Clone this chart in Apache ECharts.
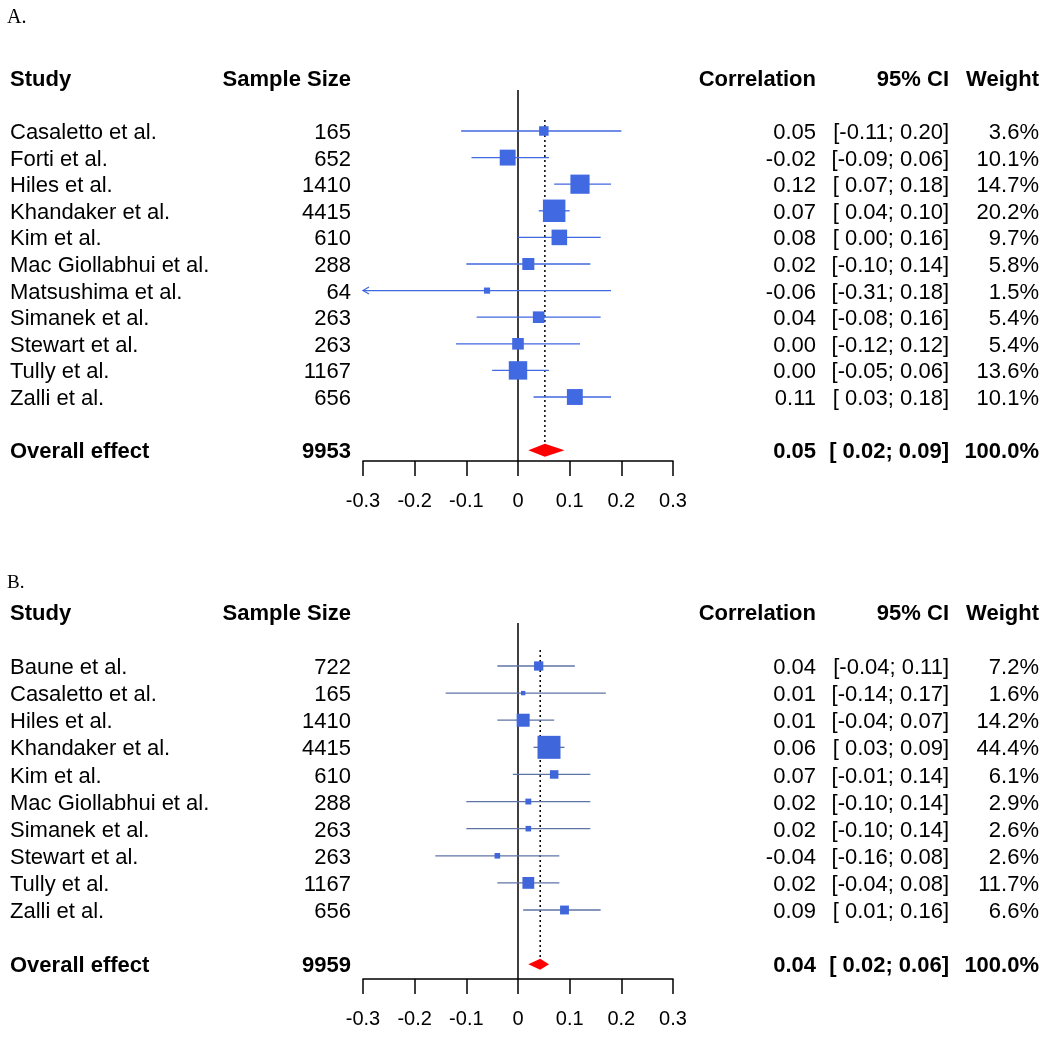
<!DOCTYPE html>
<html><head><meta charset="utf-8">
<script src="https://cdn.jsdelivr.net/npm/echarts@6/dist/echarts.min.js"></script>
<style>html,body{margin:0;padding:0;background:#fff}#c{width:1050px;height:1037px}</style>
</head><body><div id="c"></div>
<script>
// ---------- Panel A data ----------
const studiesA = ['Casaletto et al.','Forti et al.','Hiles et al.','Khandaker et al.','Kim et al.','Mac Giollabhui et al.','Matsushima et al.','Simanek et al.','Stewart et al.','Tully et al.','Zalli et al.'];
const sampleA = [165,652,1410,4415,610,288,64,263,263,1167,656];
const corrA   = [0.05,-0.02,0.12,0.07,0.08,0.02,-0.06,0.04,0.00,0.00,0.11];
const lowerA  = [-0.11,-0.09,0.07,0.04,0.00,-0.10,-0.31,-0.08,-0.12,-0.05,0.03];
const upperA  = [0.20,0.06,0.18,0.10,0.16,0.14,0.18,0.16,0.12,0.06,0.18];
const weightA = [3.6,10.1,14.7,20.2,9.7,5.8,1.5,5.4,5.4,13.6,10.1];
const totalA = 9953;
const pooledEstA = 0.052, pooledLowerA = 0.02, pooledUpperA = 0.09;

// ---------- Panel B data ----------
const studiesB = ['Baune et al.','Casaletto et al.','Hiles et al.','Khandaker et al.','Kim et al.','Mac Giollabhui et al.','Simanek et al.','Stewart et al.','Tully et al.','Zalli et al.'];
const sampleB = [722,165,1410,4415,610,288,263,263,1167,656];
const corrB   = [0.04,0.01,0.01,0.06,0.07,0.02,0.02,-0.04,0.02,0.09];
const lowerB  = [-0.04,-0.14,-0.04,0.03,-0.01,-0.10,-0.10,-0.16,-0.04,0.01];
const upperB  = [0.11,0.17,0.07,0.09,0.14,0.14,0.14,0.08,0.08,0.16];
const weightB = [7.2,1.6,14.2,44.4,6.1,2.9,2.6,2.6,11.7,6.6];
const totalB = 9959;
const pooledEstB = 0.043, pooledLowerB = 0.02, pooledUpperB = 0.06;

// ---------- shared ----------
const headers = ['Study','Sample Size','Correlation','95% CI','Weight'];
const xTicks = [-0.3,-0.2,-0.1,0,0.1,0.2,0.3];
const XMIN = xTicks[0], XMAX = xTicks[xTicks.length-1];

const FONT = '"Liberation Sans", Arial, sans-serif';
const fmt2 = v => (Math.abs(v) < 0.005 ? 0 : v).toFixed(2);
const ciFmt = (lo, hi) => '[' + (lo < 0 ? fmt2(lo) : ' ' + fmt2(lo)) + '; ' + fmt2(hi) + ']';

const panels = [
  {studies: studiesA, n: sampleA, est: corrA, lo: lowerA, hi: upperA, w: weightA, total: totalA,
   pEst: pooledEstA, pLo: pooledLowerA, pHi: pooledUpperA,
   top: 90, bottom: 461, yMin: -1.541, yMax: 12.406, dotTop: -0.41, k: 5.0, diaH: 13,
   lineColor: '#4169E1', sqColor: '#4169E1'},
  {studies: studiesB, n: sampleB, est: corrB, lo: lowerB, hi: upperB, w: weightB, total: totalB,
   pEst: pooledEstB, pLo: pooledLowerB, pHi: pooledUpperB,
   top: 623, bottom: 979, yMin: -1.586, yMax: 11.545, dotTop: -0.59, k: 3.45, diaH: 11,
   lineColor: '#5f73a6', sqColor: '#3f66da'}
];

const COLX = {study: 10, n: 351, corr: 816, ci: 949, w: 1039};
const TEXT_DY = 2;

const grid = [], xAxis = [], yAxis = [], series = [];
panels.forEach((p, gi) => {
  const nStud = p.studies.length;
  const overallRow = nStud + 1;
  grid.push({left: 363, right: 1050 - 673, top: p.top, height: p.bottom - p.top});
  xAxis.push({gridIndex: gi, type: 'value', min: XMIN, max: XMAX, interval: 0.1,
    axisLine: {show: true, onZero: false, lineStyle: {color: '#000', width: 1.5}},
    axisTick: {show: true, length: 15, lineStyle: {color: '#000', width: 1.5}},
    axisLabel: {fontSize: 20, color: '#000', margin: 30, fontFamily: FONT,
      formatter: v => String(Math.round(v * 10) / 10)},
    splitLine: {show: false}});
  yAxis.push({gridIndex: gi, type: 'value', inverse: true, min: p.yMin, max: p.yMax, show: false});

  // reference lines (zero line + dotted pooled line)
  series.push({type: 'custom', xAxisIndex: gi, yAxisIndex: gi, clip: false, silent: true, z: 1,
    data: [[p.pEst, p.dotTop, overallRow]],
    renderItem: (params, api) => {
      const a = api.coord([0, p.yMin]), b = api.coord([0, p.yMax]);
      const c = api.coord([api.value(0), api.value(1)]), d = api.coord([api.value(0), api.value(2)]);
      return {type: 'group', children: [
        {type: 'line', shape: {x1: a[0], y1: a[1], x2: b[0], y2: b[1]}, style: {stroke: '#000', lineWidth: 1.5}},
        {type: 'line', shape: {x1: c[0], y1: c[1], x2: d[0], y2: d[1]}, style: {stroke: '#000', lineWidth: 1.5, lineDash: [2, 3]}}
      ]};
    }});

  // study rows: CI lines + squares
  series.push({type: 'custom', xAxisIndex: gi, yAxisIndex: gi, clip: false, silent: true, z: 2,
    encode: {x: [1, 2, 3], y: 0},
    data: p.studies.map((s, i) => [i, p.est[i], p.lo[i], p.hi[i], p.w[i]]),
    renderItem: (params, api) => {
      const row = api.value(0), est = api.value(1), lo = api.value(2), hi = api.value(3), w = api.value(4);
      const y = api.coord([0, row])[1];
      const xl = api.coord([Math.max(lo, XMIN), row])[0];
      const xh = api.coord([Math.min(hi, XMAX), row])[0];
      const xe = api.coord([est, row])[0];
      const s = p.k * Math.sqrt(w);
      const ch = [{type: 'line', shape: {x1: xl, y1: y, x2: xh, y2: y}, style: {stroke: p.lineColor, lineWidth: 1.3}}];
      if (lo < XMIN) ch.push({type: 'polyline', shape: {points: [[xl + 6, y - 3.5], [xl, y], [xl + 6, y + 3.5]]}, style: {stroke: p.lineColor, fill: null, lineWidth: 1.2}});
      if (hi > XMAX) ch.push({type: 'polyline', shape: {points: [[xh - 6, y - 3.5], [xh, y], [xh - 6, y + 3.5]]}, style: {stroke: p.lineColor, fill: null, lineWidth: 1.2}});
      ch.push({type: 'rect', shape: {x: xe - s / 2, y: y - s / 2, width: s, height: s}, style: {fill: p.sqColor}});
      return {type: 'group', children: ch};
    }});

  // pooled diamond
  series.push({type: 'custom', xAxisIndex: gi, yAxisIndex: gi, clip: false, silent: true, z: 3,
    encode: {x: [1, 2, 3], y: 0},
    data: [[overallRow, p.pEst, p.pLo, p.pHi]],
    renderItem: (params, api) => {
      const row = api.value(0);
      const y = api.coord([0, row])[1];
      const xe = api.coord([api.value(1), row])[0], xl = api.coord([api.value(2), row])[0], xh = api.coord([api.value(3), row])[0];
      const h = p.diaH / 2;
      return {type: 'polygon', shape: {points: [[xl, y], [xe, y - h], [xh, y], [xe, y + h]]}, style: {fill: '#FF0000'}};
    }});

  // text table
  const rows = [-2].concat(p.studies.map((s, i) => i)).concat([overallRow]);
  series.push({type: 'custom', xAxisIndex: gi, yAxisIndex: gi, clip: false, silent: true, z: 4,
    encode: {x: 0, y: 1},
    data: rows.map(r => [0, r]),
    renderItem: (params, api) => {
      const idx = params.dataIndex;
      const y = api.coord([0, api.value(1)])[1] + TEXT_DY;
      let cells, bold;
      if (idx === 0) {
        cells = headers; bold = true;
      } else if (idx === rows.length - 1) {
        cells = ['Overall effect', String(p.total), fmt2(p.pEst), ciFmt(p.pLo, p.pHi), '100.0%']; bold = true;
      } else {
        const i = idx - 1;
        cells = [p.studies[i], String(p.n[i]), fmt2(p.est[i]), ciFmt(p.lo[i], p.hi[i]), p.w[i].toFixed(1) + '%']; bold = false;
      }
      const xs = [COLX.study, COLX.n, COLX.corr, COLX.ci, COLX.w];
      const al = ['left', 'right', 'right', 'right', 'right'];
      return {type: 'group', children: cells.map((t, j) => ({type: 'text', x: xs[j], y: y,
        style: {text: t, align: al[j], verticalAlign: 'middle', fontSize: 22, fontFamily: FONT,
          fontWeight: bold ? 'bold' : 'normal', fill: '#000'}}))};
    }});
});

const chart = echarts.init(document.getElementById('c'), null, {renderer: 'canvas'});
chart.setOption({
  animation: false,
  backgroundColor: '#fff',
  grid, xAxis, yAxis, series,
  graphic: [
    {type: 'text', left: 7, top: 8, style: {text: 'A.', fontSize: 20, fontFamily: '"Liberation Serif", "Times New Roman", serif', fill: '#000'}},
    {type: 'text', left: 7, top: 574, style: {text: 'B.', fontSize: 19, fontFamily: '"Liberation Serif", "Times New Roman", serif', fill: '#000'}}
  ]
});
</script>
</body></html>
